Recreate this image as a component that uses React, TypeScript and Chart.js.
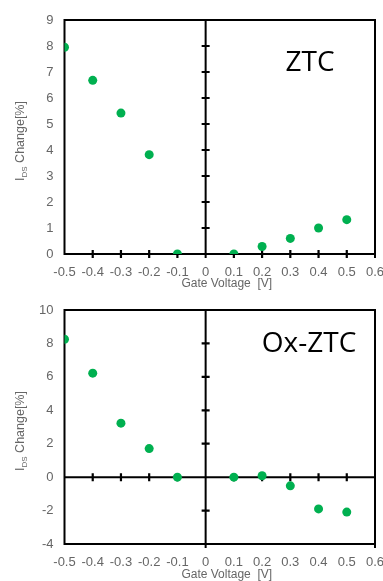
import React, { useEffect, useRef } from "react";
import { Chart, registerables } from "chart.js";

Chart.register(...registerables);

const gateVoltage = [-0.5, -0.4, -0.3, -0.2, -0.1, 0.1, 0.2, 0.3, 0.4, 0.5];
const ztcChange = [7.95, 6.68, 5.42, 3.82, 0, 0, 0.29, 0.6, 1.0, 1.32];
const oxZtcChange = [8.25, 6.22, 3.23, 1.71, 0, 0, 0.08, -0.52, -1.9, -2.09];
const xTickValues = [-0.5, -0.4, -0.3, -0.2, -0.1, 0, 0.1, 0.2, 0.3, 0.4, 0.5, 0.6];
const ztcYTicks = [0, 1, 2, 3, 4, 5, 6, 7, 8, 9];
const oxZtcYTicks = [-4, -2, 0, 2, 4, 6, 8, 10];

const GREEN = "#00B050";
const GRAY = "#666666";
const FONT = "'Liberation Sans', Arial, sans-serif";

type PanelProps = {
  values: number[];
  yTicks: number[];
  label: string;
  height: number;
  labelX: number;
  labelY: number;
};

function Panel({ values, yTicks, label, height, labelX, labelY }: PanelProps) {
  const ref = useRef<HTMLCanvasElement | null>(null);

  useEffect(() => {
    if (!ref.current) return;
    const yMin = yTicks[0];
    const yMax = yTicks[yTicks.length - 1];
    const xMin = xTickValues[0];
    const xMax = xTickValues[xTickValues.length - 1];

    const framePlugin = {
      id: "frame",
      beforeDatasetsDraw(chart: any) {
        const { ctx, chartArea } = chart;
        const xs = chart.scales.x;
        const ys = chart.scales.y;
        const { left, right, top, bottom } = chartArea;
        const x0 = xs.getPixelForValue(0);
        const y0 = ys.getPixelForValue(0);
        ctx.save();
        ctx.strokeStyle = "#000";
        ctx.lineWidth = 2;
        ctx.strokeRect(left, top, right - left, bottom - top);
        ctx.beginPath();
        ctx.moveTo(x0, top);
        ctx.lineTo(x0, bottom + 4);
        ctx.moveTo(left, y0);
        ctx.lineTo(right, y0);
        ctx.moveTo(right, bottom);
        ctx.lineTo(right, bottom + 4);
        ctx.stroke();
        ctx.beginPath();
        ctx.lineWidth = 2.2;
        yTicks.forEach((v) => {
          if (v === yMin || v === yMax || v === 0) return;
          const py = ys.getPixelForValue(v);
          ctx.moveTo(x0 - 4, py);
          ctx.lineTo(x0 + 4, py);
        });
        xTickValues.forEach((v) => {
          if (v === xMin || v === xMax || v === 0) return;
          const px = xs.getPixelForValue(v);
          ctx.moveTo(px, y0 - 4);
          ctx.lineTo(px, y0 + 4);
        });
        ctx.stroke();
        ctx.restore();
      },
      afterDraw(chart: any) {
        const { ctx, chartArea } = chart;
        const { left, right, top, bottom } = chartArea;
        ctx.save();
        ctx.fillStyle = "#000";
        ctx.font = "28px 'Open Sans', sans-serif";
        ctx.textAlign = "center";
        ctx.textBaseline = "middle";
        ctx.fillText(label, labelX, labelY);
        ctx.fillStyle = GRAY;
        ctx.font = "12px " + FONT;
        ctx.textBaseline = "alphabetic";
        ctx.fillText("Gate Voltage  [V]", (left + right) / 2 + 7, chart.height - 3);
        ctx.translate(24, (top + bottom) / 2 + 4);
        ctx.rotate(-Math.PI / 2);
        const big = "12.5px " + FONT;
        const small = "8px " + FONT;
        ctx.font = big;
        const wI = ctx.measureText("I").width;
        const wRest = ctx.measureText(" Change[%]").width;
        ctx.font = small;
        const wDS = ctx.measureText("DS").width;
        const total = wI + wDS + wRest;
        let x = -total / 2;
        ctx.textAlign = "left";
        ctx.font = big;
        ctx.fillText("I", x, 0);
        x += wI;
        ctx.font = small;
        ctx.fillText("DS", x, 3);
        x += wDS;
        ctx.font = big;
        ctx.fillText(" Change[%]", x, 0);
        ctx.restore();
      },
    };

    const chart = new Chart(ref.current, {
      type: "scatter",
      data: {
        datasets: [
          {
            data: gateVoltage.map((g, i) => ({ x: g, y: values[i] })),
            backgroundColor: GREEN,
            borderColor: GREEN,
            pointRadius: 4.5,
            pointHoverRadius: 4.5,
            borderWidth: 0,
          },
        ],
      },
      options: {
        animation: false,
        responsive: false,
        events: [],
        layout: { padding: { top: 20, right: 8, left: 0, bottom: 0 } },
        plugins: {
          legend: { display: false },
          tooltip: { enabled: false },
        },
        scales: {
          x: {
            type: "linear",
            min: xMin,
            max: xMax,
            grid: { display: false, drawTicks: false },
            border: { display: false },
            afterBuildTicks: (s: any) => {
              s.ticks = xTickValues.map((v) => ({ value: v }));
            },
            afterFit: (s: any) => {
              s.height = height - 254;
              s.paddingLeft = 0;
              s.paddingRight = 0;
            },
            ticks: {
              autoSkip: false,
              maxRotation: 0,
              minRotation: 0,
              padding: 11,
              color: GRAY,
              font: { family: FONT, size: 13 },
              callback: (v: any) => (Number(v) === 0 ? "0" : Number(v).toFixed(1)),
            },
          },
          y: {
            type: "linear",
            min: yMin,
            max: yMax,
            grid: { display: false, drawTicks: false },
            border: { display: false },
            afterBuildTicks: (s: any) => {
              s.ticks = yTicks.map((v) => ({ value: v }));
            },
            afterFit: (s: any) => {
              s.width = 64.5;
              s.paddingTop = 0;
              s.paddingBottom = 0;
            },
            ticks: {
              autoSkip: false,
              padding: 11,
              color: GRAY,
              font: { family: FONT, size: 13 },
              callback: (v: any) => String(Number(v)),
            },
          },
        },
      },
      plugins: [framePlugin],
    } as any);

    return () => chart.destroy();
  }, [values, yTicks, label, height, labelX, labelY]);

  return <canvas ref={ref} width={383} height={height} style={{ display: "block", width: 383, height }} />;
}

export default function App() {
  return (
    <div style={{ position: "absolute", left: 0, top: 0, width: 383, height: 581, background: "#fff" }}>
      <Panel values={ztcChange} yTicks={ztcYTicks} label="ZTC" height={290} labelX={310} labelY={63} />
      <Panel values={oxZtcChange} yTicks={oxZtcYTicks} label="Ox-ZTC" height={291} labelX={309} labelY={54} />
    </div>
  );
}
